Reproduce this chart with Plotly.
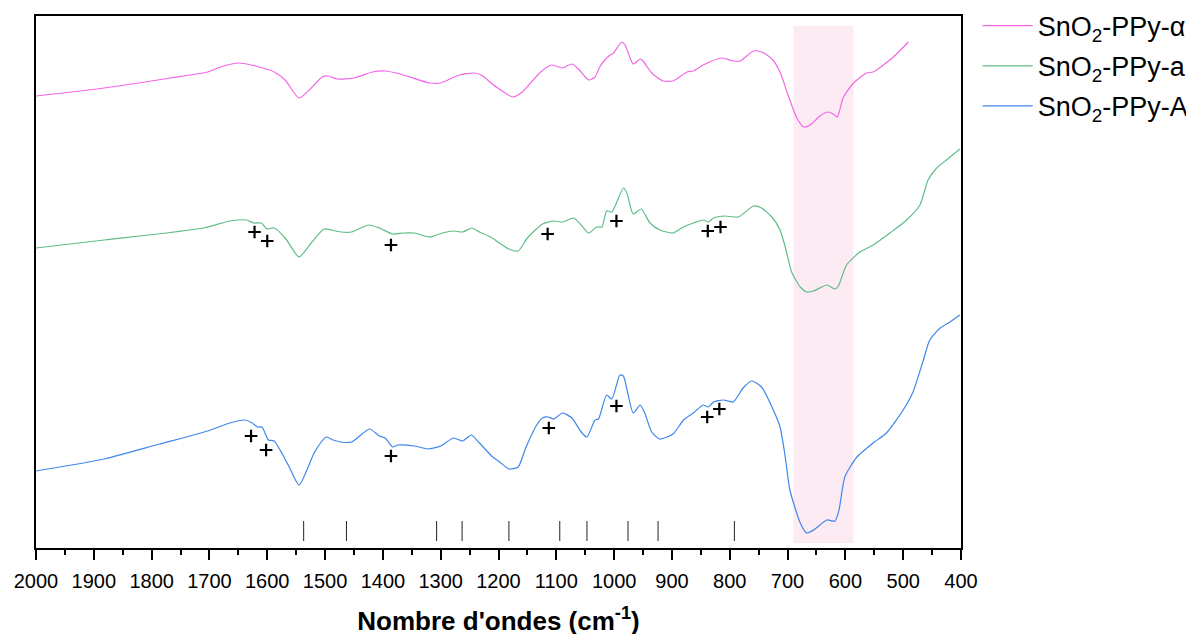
import plotly.graph_objects as go

# FT-IR spectra, wavenumber (cm-1) vs. transmittance (arbitrary units, offset)
alpha_wn = [2000, 1882, 1767, 1703, 1681, 1649, 1614, 1588, 1569, 1545, 1524, 1505, 1495, 1479,
            1450, 1418, 1396, 1370, 1319, 1300, 1268, 1242, 1230, 1204, 1175, 1159, 1127, 1108,
            1090, 1073, 1060, 1044, 1033, 1025, 1016, 1009, 1001, 987, 981, 967, 955, 950, 935,
            915, 898, 874, 863, 846, 814, 794, 782, 759, 745, 727, 713, 701, 684, 672, 661, 644,
            631, 621, 614, 604, 586, 563, 552, 517, 491]
alpha_t = [452, 460, 470, 476, 481, 485, 481, 476, 468, 450, 460, 471, 472, 469,
           470, 476, 477, 474, 465, 465, 473, 475, 473, 461, 451, 456, 476, 483,
           480, 484, 478, 468, 471, 481, 488, 492, 495, 506, 503, 484, 489, 487, 475,
           467, 467, 476, 477, 483, 490, 487, 487, 497, 496, 489, 476, 456, 430, 421, 423, 432,
           436, 434, 431, 450, 465, 475, 476, 491, 506]

a_wn = [2000, 1882, 1710, 1665, 1636, 1623, 1610, 1601, 1588, 1569, 1545, 1524, 1502, 1489,
        1473, 1454, 1425, 1406, 1383, 1364, 1345, 1319, 1297, 1278, 1262, 1246, 1233, 1214,
        1182, 1166, 1150, 1124, 1105, 1089, 1070, 1057, 1044, 1030, 1021, 1013, 1004, 984, 978,
        967, 953, 938, 921, 898, 880, 863, 846, 837, 828, 808, 785, 759, 745, 727, 713, 704,
        693, 678, 667, 655, 632, 618, 612, 598, 575, 552, 523, 494, 471, 457, 442, 425, 402]
a_t = [300, 308, 320, 327, 328, 325, 325, 319, 320, 310, 291, 305, 319, 318,
       316, 316, 323, 320, 314, 315, 315, 311, 315, 317, 316, 320, 316, 311,
       299, 297, 310, 324, 327, 326, 330, 323, 315, 321, 321, 337, 336, 360, 355,
       334, 339, 325, 318, 315, 321, 325, 328, 326, 330, 332, 331, 342, 340, 331, 318, 301,
       276, 261, 256, 257, 263, 259, 262, 283, 296, 303, 315, 328, 343, 368, 380, 388, 399]

A_wn = [2000, 1882, 1786, 1703, 1665, 1639, 1626, 1617, 1609, 1598, 1588, 1562, 1545, 1518,
        1498, 1486, 1473, 1454, 1423, 1406, 1396, 1383, 1374, 1345, 1322, 1300, 1278, 1262,
        1247, 1233, 1210, 1198, 1182, 1166, 1153, 1134, 1124, 1114, 1105, 1089, 1073, 1057,
        1047, 1033, 1027, 1013, 1004, 990, 984, 967, 955, 947, 935, 921, 898, 880, 863, 846,
        837, 828, 811, 794, 777, 762, 745, 727, 713, 704, 696, 678, 667, 655, 632, 618, 611,
        601, 580, 552, 529, 500, 483, 465, 454, 436, 419, 402]
A_t = [77, 89, 104, 117, 125, 128, 125, 121, 121, 108, 107, 81, 63, 96,
       111, 108, 106, 106, 119, 112, 110, 101, 103, 102, 99, 102, 110, 107,
       113, 105, 91, 86, 79, 81, 100, 123, 130, 131, 129, 135, 130, 116,
       111, 128, 129, 153, 149, 173, 172, 135, 143, 135, 116, 109, 114, 128, 135, 143,
       141, 146, 148, 146, 160, 167, 161, 141, 121, 91, 58, 25, 15, 18, 28, 27, 38,
       71, 91, 105, 115, 138, 156, 188, 208, 220, 226, 233]

# "+" marks on the spectra
mark_wn = [1622, 1600, 1386, 1115, 996, 838, 816]
mark_a_t = [316, 307, 303, 314, 327, 317, 321]
mark_A_wn = [1628, 1602, 1386, 1113, 996, 839, 818]
mark_A_t = [112, 98, 92, 120, 142, 131, 139]

# reference band positions (short vertical bars at the bottom)
band_wn = [1537, 1463, 1307, 1263, 1182, 1094, 1047, 976, 924, 792]
band_t = [7, 27]

# shaded Sn-O region
region_wn = [690, 586]
region_t = [5, 522]

FONT = "Arial, Liberation Sans, sans-serif"

fig = go.Figure()

fig.add_shape(type="rect", xref="x", yref="y",
              x0=region_wn[0], x1=region_wn[1], y0=region_t[0], y1=region_t[1],
              fillcolor="#fdebf4", line_width=0, layer="below")

series = [
    ("SnO<sub>2</sub>-PPy-α", alpha_wn, alpha_t, "#f266e6"),
    ("SnO<sub>2</sub>-PPy-a", a_wn, a_t, "#5fbd86"),
    ("SnO<sub>2</sub>-PPy-A", A_wn, A_t, "#3f86ea"),
]
for i, (name, xs, ys, col) in enumerate(series):
    fig.add_trace(go.Scatter(x=xs, y=ys, mode="lines", name=name,
                             line=dict(color=col, width=1.2, shape="spline", smoothing=0.6),
                             legendgroup=str(i)))

fig.add_trace(go.Scatter(x=mark_wn + mark_A_wn, y=mark_a_t + mark_A_t, mode="markers",
                         marker=dict(symbol="cross-thin", size=9,
                                     line=dict(color="black", width=2.2)),
                         showlegend=False, hoverinfo="skip"))

bx, by = [], []
for w in band_wn:
    bx += [w, w, None]
    by += [band_t[0], band_t[1], None]
fig.add_trace(go.Scatter(x=bx, y=by, mode="lines", line=dict(color="#222222", width=1),
                         showlegend=False, hoverinfo="skip"))

# the page body adds an 8px offset, margins are reduced to compensate
fig.update_layout(
    width=1194, height=634,
    margin=dict(l=28, r=241, t=8, b=94, autoexpand=False),
    plot_bgcolor="white", paper_bgcolor="white",
    font=dict(family=FONT, color="black"),
    showlegend=True,
    legend=dict(x=1.018, y=1.027, xanchor="left", yanchor="top",
                font=dict(size=27, family=FONT), tracegroupgap=2,
                bgcolor="rgba(0,0,0,0)", itemwidth=50),
)

fig.update_xaxes(range=[2000, 400], dtick=100, tick0=400, automargin=False,
                 showline=True, linecolor="black", linewidth=2, mirror=True,
                 ticks="outside", ticklen=10, tickwidth=1.5, tickcolor="black",
                 minor=dict(dtick=50, ticks="outside", ticklen=5, tickwidth=1.5, tickcolor="black"),
                 tickfont=dict(size=20), ticklabelstandoff=4,
                 showgrid=False, zeroline=False,
                 title=dict(text="<b>Nombre d'ondes (cm<sup>-1</sup>)</b>",
                            font=dict(size=26), standoff=21))
fig.update_yaxes(range=[0, 532], automargin=False,
                 showline=True, linecolor="black", linewidth=2, mirror=True,
                 showticklabels=False, ticks="", showgrid=False, zeroline=False)

fig.write_html("out.html")
